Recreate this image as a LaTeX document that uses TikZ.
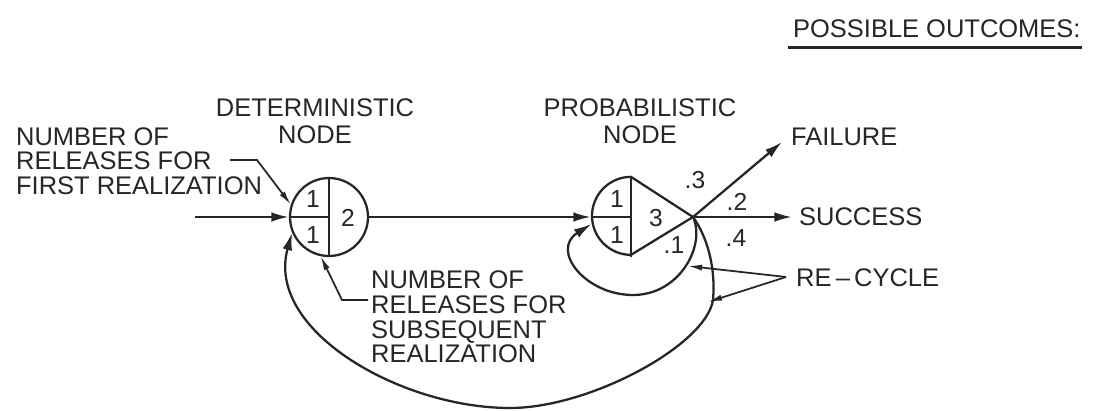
\documentclass[tikz,border=0pt]{standalone}
\usepackage{fontspec}
\setmainfont{Liberation Sans}
\usetikzlibrary{arrows.meta,calc}
\definecolor{ink}{HTML}{262626}
\begin{document}
\begin{tikzpicture}[x=0.02cm,y=-0.02cm, line width=1.3pt, draw=ink,
  txt/.style={font=\fontsize{14.5}{14}\selectfont, inner sep=0pt, text=ink, align=left},
  head/.style={font=\fontsize{14.5}{15.6}\selectfont, inner sep=0pt, text=ink, align=center},
  num/.style={font=\fontsize{14}{14}\selectfont, inner sep=0pt, text=ink},
  prb/.style={font=\fontsize{14}{14}\selectfont, inner sep=0pt, text=ink},
  arr/.style={draw=ink, -{Latex[length=10pt,width=5.5pt]}},
  lead/.style={draw=ink, line width=1pt, -{Latex[length=8pt,width=3.5pt]}},
  dnode/.style={circle, draw=ink, minimum size=1.56cm, inner sep=0pt},
  pnode/.style={circle, minimum size=1.56cm, inner sep=0pt}]
\useasboundingbox (0,0) rectangle (1096,410);

% deterministic node
\node[dnode] (det) at (329,217) {};
\draw[ink] (det.north) -- (det.south) (det.west) -- (det.center);
\node[num] (d1a) at (313,199) {1};
\node[num] (d1b) at (313,235) {1};
\node[num] (d2) at (348,218) {2};

% probabilistic node
\node[pnode] (prob) at (631,217) {};
\coordinate (tip) at (693,217);
\draw[ink] (prob.north) arc[start angle=90, end angle=270, radius=0.78cm] -- (tip) -- cycle;
\draw[ink] (prob.north) -- (prob.south) (prob.west) -- (prob.center);
\node[num] (p1a) at (617,199) {1};
\node[num] (p1b) at (617,235) {1};
\node[num] (p3n) at (656,218) {3};

% main connectors
\coordinate (in) at (195,217);
\draw[arr] (in) -- (det.west);
\draw[arr] (det.east) -- (prob.west);
\coordinate (fa) at (782,142);
\draw[arr] (tip) -- (fa);
\coordinate (sa) at (792,217);
\draw[arr] (tip) -- (sa);

% recycle loops
\draw[arr] (tip) .. controls (706,245) and (680,295) .. (633,295)
  .. controls (585,295) and (550,250) .. (prob.190);
\draw[arr] (tip) .. controls (706,235) and (716,265) .. (713,300)
  .. controls (706,345) and (590,408) .. (510,408)
  .. controls (400,408) and (265,330) .. (det.203);

% probabilities
\node[prb] (q3) at (695,180) {.3};
\node[prb] (q2) at (737,202) {.2};
\node[prb] (q4) at (736,238) {.4};
\node[prb] (q1) at (674,245) {.1};

% texts
\node[txt, anchor=west] (t1) at (15,161) {NUMBER OF\\RELEASES FOR\\FIRST REALIZATION};
\node[txt, anchor=west] (t2) at (370,317) {NUMBER OF\\RELEASES FOR\\SUBSEQUENT\\REALIZATION};
\node[head] (hd) at (315,121.5) {DETERMINISTIC\\NODE};
\node[head] (hp) at (640,121) {PROBABILISTIC\\NODE};
\node[txt, anchor=west] (fail) at (790,137) {FAILURE};
\node[txt, anchor=west] (succ) at (798,217) {SUCCESS};
\node[txt, anchor=west] (recyc) at (795,278) {RE\,--\,CYCLE};
\node[txt, anchor=west] (title) at (792,29) {POSSIBLE OUTCOMES:};
\draw[ink, line width=1.8pt] ([shift={(-4,8)}]title.south west) -- ([shift={(0,8)}]title.south east);

% leaders
\coordinate (l1) at (230,160);
\draw[lead] (l1) -- ++(27,0) -- (det.162);
\coordinate (l2) at (368,300);
\draw[lead] (l2) -- ++(-26,0) -- (det.258);
\coordinate (rc) at (786,277);
\coordinate (rc1) at (688,266);
\coordinate (rc2) at (708,302);
\draw[lead] (rc) -- (rc1);
\draw[lead] (rc) -- (rc2);
\end{tikzpicture}
\end{document}
